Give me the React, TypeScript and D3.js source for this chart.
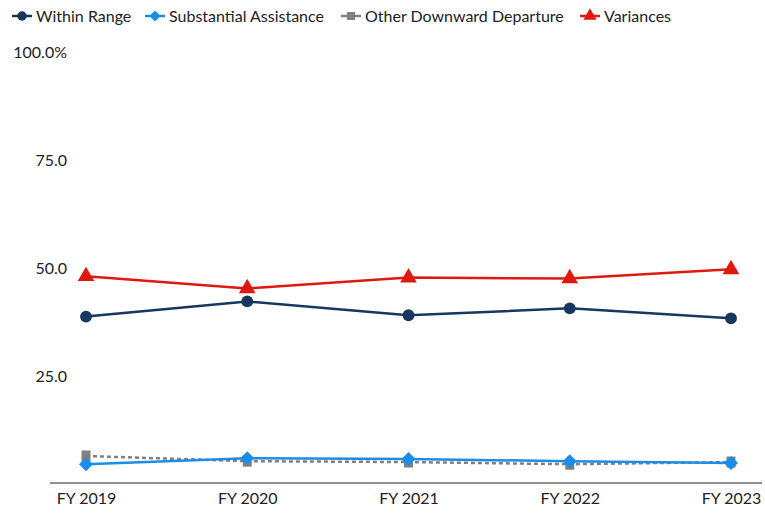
import React, { useRef, useEffect } from 'react';
import * as d3 from 'd3';

const years = ['FY 2019', 'FY 2020', 'FY 2021', 'FY 2022', 'FY 2023'];
const withinRange = [38.9, 42.4, 39.2, 40.8, 38.5];
const substantialAssistance = [4.8, 6.2, 6.0, 5.5, 5.1];
const otherDownward = [6.7, 5.5, 5.3, 4.8, 5.3];
const variances = [48.2, 45.4, 47.9, 47.7, 49.8];
const yTicks = [25, 50, 75, 100];

const series = [
  { name: 'Within Range', values: withinRange, color: '#17375e', marker: 'circle', dash: null },
  { name: 'Substantial Assistance', values: substantialAssistance, color: '#1a8de8', marker: 'diamond', dash: null },
  { name: 'Other Downward Departure', values: otherDownward, color: '#808080', marker: 'square', dash: '4,3' },
  { name: 'Variances', values: variances, color: '#e0190f', marker: 'triangle', dash: null },
];

export default function App() {
  const ref = useRef<SVGSVGElement>(null);

  useEffect(() => {
    const width = 765;
    const height = 515;
    const font = 'Lato, "Open Sans", sans-serif';

    const svg = d3.select(ref.current);
    svg.selectAll('*').remove();

    const x = d3.scalePoint().domain(years).range([86, 731]);
    const y = d3.scaleLinear().domain([0, 100]).range([485, 52]);

    // y tick labels, no axis line
    svg.append('g')
      .selectAll('text')
      .data(yTicks)
      .enter()
      .append('text')
      .attr('x', 67)
      .attr('y', d => y(d))
      .attr('dy', '0.35em')
      .attr('text-anchor', 'end')
      .style('font-family', font)
      .style('font-size', '16px')
      .style('fill', '#222')
      .text(d => d === 100 ? '100.0%' : d.toFixed(1));

    // x axis
    const xAxis = svg.append('g')
      .attr('transform', `translate(0, 483)`)
      .call(d3.axisBottom(x).tickSize(0).tickPadding(10));
    xAxis.select('.domain').attr('d', 'M50,0H762').attr('stroke', '#222').attr('stroke-width', 1.2);
    xAxis.selectAll('.tick text')
      .style('font-family', font)
      .style('font-size', '16px')
      .style('fill', '#222');

    // diamond drawn as rotated square (equal width/height)
    const diamondPath = (r: number) => `M0,${-r}L${r},0L0,${r}L${-r},0Z`;
    const markerPath = (m: string, k = 1) => {
      if (m === 'circle') return d3.symbol().type(d3.symbolCircle).size(110 * k * k)() as string;
      if (m === 'diamond') return diamondPath(7 * k);
      if (m === 'square') return `M${-4.5 * k},${-5.5 * k}h${9 * k}v${11 * k}h${-9 * k}Z`;
      return d3.symbol().type(d3.symbolTriangle).size(120 * k * k)() as string;
    };

    const line = d3.line<number>()
      .x((d, i) => x(years[i]) as number)
      .y(d => y(d));

    // gray first so the blue line sits on top
    const order = [2, 1, 0, 3];
    order.forEach(idx => {
      const s = series[idx];
      const g = svg.append('g');
      g.append('path')
        .datum(s.values)
        .attr('d', line)
        .attr('fill', 'none')
        .attr('stroke', s.color)
        .attr('stroke-width', 2.5)
        .attr('stroke-dasharray', s.dash);
      g.selectAll('path.mk')
        .data(s.values)
        .enter()
        .append('path')
        .attr('class', 'mk')
        .attr('d', markerPath(s.marker))
        .attr('transform', (d, i) => `translate(${x(years[i])},${y(d)})`)
        .attr('fill', s.color);
    });

    // legend
    const legendX = [12, 145, 341, 580];
    const legend = svg.append('g').attr('transform', 'translate(0, 16)');
    series.forEach((s, i) => {
      const lg = legend.append('g').attr('transform', `translate(${legendX[i]}, 0)`);
      lg.append('line')
        .attr('x1', 0).attr('x2', 20)
        .attr('stroke', s.color)
        .attr('stroke-width', 2.5);
      lg.append('path')
        .attr('d', s.marker === 'square' ? 'M-4,-4h8v8h-8Z' : markerPath(s.marker, 0.8))
        .attr('transform', 'translate(10,0)')
        .attr('fill', s.color);
      lg.append('text')
        .attr('x', 24)
        .attr('dy', '0.35em')
        .style('font-family', font)
        .style('font-size', '16px')
        .style('fill', '#222')
        .text(s.name);
    });

    svg.attr('width', width).attr('height', height);
  }, []);

  return (
    <div style={{ position: 'absolute', left: 0, top: 0 }}>
      <svg ref={ref} width={765} height={515} style={{ display: 'block' }} />
    </div>
  );
}
